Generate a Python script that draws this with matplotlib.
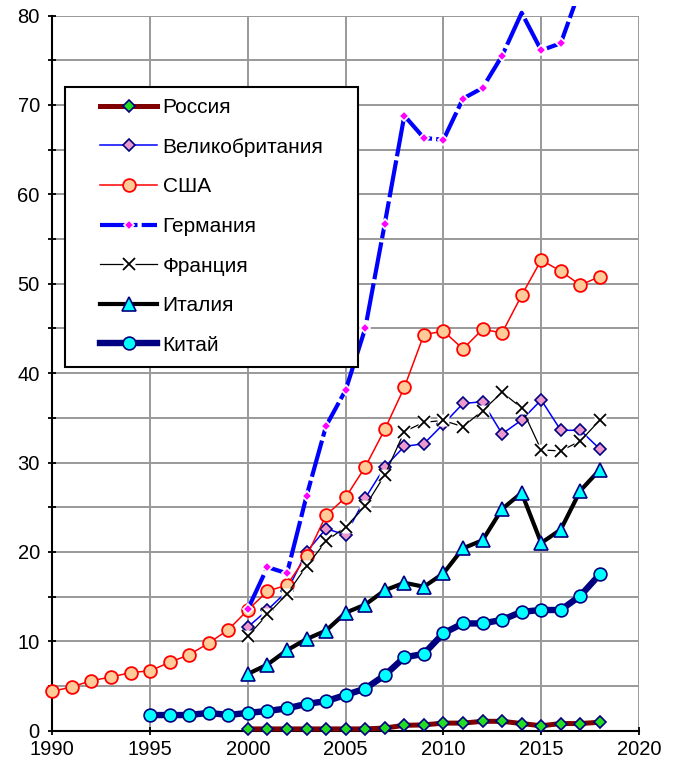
import matplotlib
matplotlib.use("Agg")
import matplotlib.pyplot as plt
from matplotlib.lines import Line2D
from matplotlib.patches import Rectangle
from matplotlib.legend_handler import HandlerTuple
from matplotlib.ticker import MultipleLocator

# ----------------------------------------------------
# Data
# ----------------------------------------------------

years_usa = list(range(1990, 2019))
usa = [4.4, 4.9, 5.6, 6.0, 6.5, 6.7, 7.65, 8.5, 9.8, 11.3,
       13.5, 15.6, 16.3, 19.5, 24.1, 26.1, 29.5, 33.7, 38.4, 44.3,
       44.7, 42.7, 44.9, 44.5, 48.7, 52.65, 51.4, 49.85, 50.8]

years_china = list(range(1995, 2019))
china = [1.75, 1.75, 1.75, 2.0, 1.75, 2.0, 2.2, 2.5, 3.0, 3.3,
         4.0, 4.7, 6.2, 8.2, 8.6, 10.9, 12.0, 12.0, 12.4, 13.3,
         13.5, 13.5, 15.1, 17.5]

years = list(range(2000, 2019))
russia = [0.2, 0.2, 0.2, 0.2, 0.2, 0.2, 0.2, 0.3, 0.6, 0.65,
          0.85, 0.85, 1.05, 1.05, 0.8, 0.55, 0.8, 0.8, 0.95]
uk = [11.6, 13.5, 15.6, 20.0, 22.6, 21.9, 26.0, 29.5, 31.8, 32.1,
      34.3, 36.6, 36.8, 33.2, 34.75, 37.0, 33.6, 33.6, 31.5]
germany = [13.6, 18.3, 17.6, 26.25, 34.1, 38.1, 45.0, 56.7, 68.8, 66.3,
           66.1, 70.7, 71.9, 75.5, 80.3, 76.1, 76.9, 83.0, 88.0]
france = [10.6, 13.0, 15.3, 18.4, 21.2, 22.8, 25.1, 28.6, 33.45, 34.5,
          34.7, 34.0, 35.8, 37.85, 36.1, 31.4, 31.3, 32.4, 34.75]
italy = [6.35, 7.4, 9.0, 10.25, 11.2, 13.2, 14.1, 15.7, 16.55, 16.1,
         17.6, 20.4, 21.3, 24.8, 26.6, 21.0, 22.5, 26.85, 29.2]

labels = ["Россия", "Великобритания", "США", "Германия",
          "Франция", "Италия", "Китай"]

# ----------------------------------------------------
# Figure
# ----------------------------------------------------

plt.rcParams["font.family"] = ["Liberation Sans", "DejaVu Sans"]

fig = plt.figure(figsize=(6.81, 7.69), dpi=100)
ax = fig.add_axes([52.3 / 681, 1 - 730.7 / 769, (639 - 52.3) / 681, (730.7 - 15.5) / 769])

ax.set_xlim(1990, 2020)
ax.set_ylim(0, 80)
ax.xaxis.set_major_locator(MultipleLocator(5))
ax.yaxis.set_major_locator(MultipleLocator(10))
ax.yaxis.set_minor_locator(MultipleLocator(5))

ax.grid(True, which="major", axis="x", color="#999999", lw=1.4)
ax.grid(True, which="both", axis="y", color="#999999", lw=1.4)
ax.set_axisbelow(True)

for s in ["top", "right"]:
    ax.spines[s].set_visible(False)
for s in ["left", "bottom"]:
    ax.spines[s].set_linewidth(1.5)
    ax.spines[s].set_zorder(1.5)

ax.tick_params(axis="both", which="both", direction="inout", length=6,
               width=1.3, labelsize=14.5)
ax.tick_params(axis="y", pad=6)
ax.tick_params(axis="x", pad=4)

navy = "#000080"
ger_dash = (0, (9, 1))

l_rus, = ax.plot(years, russia, color="#800000", lw=3.6, marker="D", ms=6.0,
                 mfc="#22DD22", mec=navy, mew=1.2, clip_on=False)
l_uk, = ax.plot(years, uk, color="#0000FF", lw=1.1, marker="D", ms=6.4,
                mfc="#EE99CC", mec=navy, mew=1.2, clip_on=False)
l_usa, = ax.plot(years_usa, usa, color="#FF0000", lw=1.1, marker="o", ms=9.2,
                 mfc="#FFCC99", mec="#FF0000", mew=1.3, clip_on=False)

# Germany goes past the top of the scale: line kept a bit above, markers hidden
l_ger, = ax.plot(years, germany, color="#0000FF", lw=3.0, ls=ger_dash,
                 marker="D", ms=4.6, mfc="#FF00FF", mec="white", mew=1.2,
                 markevery=[v <= 80 for v in germany])
clip = Rectangle((0, 0), 1, 1 + 9 / 715, transform=ax.transAxes)
l_ger.set_clip_path(clip)

# France: x markers with white background square
l_fra, = ax.plot(years, france, color="black", lw=0.9, clip_on=False)
w_fra, = ax.plot(years, france, ls="none", marker="s", ms=8.0,
                 mfc="white", mec="none", clip_on=False)
x_fra, = ax.plot(years, france, ls="none", marker="x", ms=9.0,
                 mec="black", mew=1.3, clip_on=False)

l_ita, = ax.plot(years, italy, color="black", lw=3.0, marker="^", ms=9.5,
                 mfc="#00FFFF", mec=navy, mew=1.2, clip_on=False)
l_chn, = ax.plot(years_china, china, color=navy, lw=4.6, marker="o", ms=9.2,
                 mfc="#00FFFF", mec=navy, mew=1.2, clip_on=False)

# ----------------------------------------------------
# Legend
# ----------------------------------------------------

h_fra = Line2D([], [], color="black", lw=0.9)
h_fra_w = Line2D([], [], ls="none", marker="s", ms=8.0, mfc="white", mec="none")
h_fra_x = Line2D([], [], ls="none", marker="x", ms=9.0, mec="black", mew=1.3)
h_ger = Line2D([], [], color="#0000FF", lw=3.0, ls=ger_dash,
               marker="D", ms=4.6, mfc="#FF00FF", mec="white", mew=1.2)

handles = [l_rus, l_uk, l_usa, h_ger, (h_fra, h_fra_w, h_fra_x), l_ita, l_chn]

box = Rectangle((65 / 681, 1 - 367 / 769), (358 - 65) / 681, (367 - 87) / 769,
                transform=fig.transFigure, facecolor="white", edgecolor="black",
                lw=1.5, zorder=8)
ax.add_artist(box)
box.set_clip_on(False)

leg = ax.legend(handles, labels, loc="upper left",
                bbox_to_anchor=(100 / 681, 1 - 98 / 769),
                bbox_transform=fig.transFigure, frameon=False,
                fontsize=15, borderpad=0, borderaxespad=0,
                handlelength=2.75, handletextpad=0.25, labelspacing=0.99,
                numpoints=1, handler_map={tuple: HandlerTuple(ndivide=1, pad=0)})
leg.set_zorder(9)

fig.savefig("out.png", dpi=100)
